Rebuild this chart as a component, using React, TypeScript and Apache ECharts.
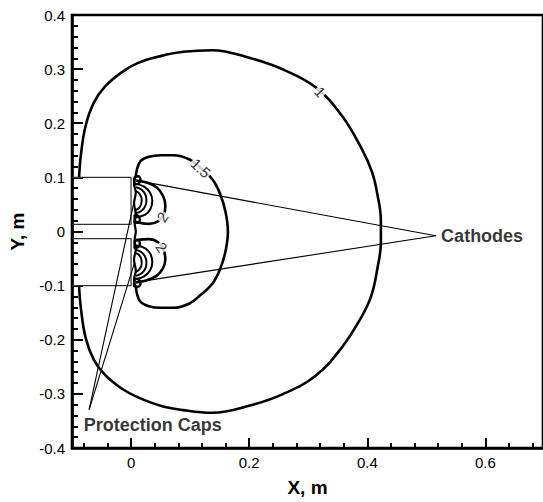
import React, { useEffect, useRef } from "react";
import * as echarts from "echarts";

// Axis ticks
const xMajorTicks = [0, 0.2, 0.4, 0.6];
const xMinorTicks = [-0.08, -0.04, 0.04, 0.08, 0.12, 0.16, 0.24, 0.28, 0.32, 0.36, 0.44, 0.48, 0.52, 0.56, 0.64, 0.68];

// Potential contour 1 (outer loop)
const contour1: number[][] = [
  [-0.088, 0.1], [-0.085, 0.141], [-0.077, 0.195], [-0.063, 0.238], [-0.044, 0.268], [-0.016, 0.294],
  [0.011, 0.311], [0.05, 0.324], [0.088, 0.332], [0.137, 0.335], [0.203, 0.32], [0.258, 0.299],
  [0.313, 0.266], [0.357, 0.214], [0.39, 0.154], [0.408, 0.11], [0.417, 0.069], [0.423, 0.02],
  [0.423, -0.02], [0.417, -0.069], [0.407, -0.118], [0.39, -0.158], [0.357, -0.214], [0.313, -0.266],
  [0.258, -0.3], [0.203, -0.321], [0.137, -0.335], [0.088, -0.33], [0.05, -0.322], [0.011, -0.306],
  [-0.016, -0.29], [-0.044, -0.265], [-0.063, -0.237], [-0.077, -0.196], [-0.085, -0.141], [-0.088, -0.102],
];

// Contour 1.5
const contour15: number[][] = [
  [0.008, 0.1], [0.01, 0.115], [0.016, 0.13], [0.03, 0.138], [0.05, 0.141], [0.072, 0.141],
  [0.099, 0.133], [0.118, 0.117], [0.138, 0.096], [0.151, 0.069], [0.16, 0.036], [0.164, 0.0],
  [0.16, -0.036], [0.151, -0.069], [0.138, -0.096], [0.118, -0.117], [0.099, -0.133], [0.072, -0.141],
  [0.05, -0.141], [0.03, -0.138], [0.016, -0.13], [0.01, -0.115], [0.008, -0.1],
];

// Contour 2 loops around each cathode
const contour2Upper: number[][] = [
  [0.008, 0.094], [0.028, 0.09], [0.044, 0.081], [0.054, 0.066], [0.058, 0.048], [0.056, 0.033],
  [0.046, 0.019], [0.03, 0.014], [0.008, 0.018],
];
const contour2Lower: number[][] = [
  [0.008, -0.016], [0.03, -0.014], [0.046, -0.02], [0.055, -0.034], [0.058, -0.052], [0.054, -0.068],
  [0.043, -0.082], [0.027, -0.09], [0.008, -0.094],
];

// Inner (higher-level) loops near the cathodes
const innerUpperA: number[][] = [[0.008, 0.088], [0.022, 0.083], [0.032, 0.072], [0.036, 0.057], [0.033, 0.042], [0.024, 0.031], [0.008, 0.026]];
const innerUpperB: number[][] = [[0.008, 0.082], [0.018, 0.077], [0.025, 0.066], [0.026, 0.056], [0.023, 0.045], [0.016, 0.037], [0.008, 0.034]];
const innerUpperC: number[][] = [[0.008, 0.075], [0.014, 0.07], [0.018, 0.06], [0.017, 0.05], [0.013, 0.043], [0.008, 0.04]];
const innerLowerA: number[][] = [[0.008, -0.026], [0.024, -0.031], [0.033, -0.042], [0.036, -0.057], [0.032, -0.072], [0.022, -0.083], [0.008, -0.088]];
const innerLowerB: number[][] = [[0.008, -0.034], [0.016, -0.037], [0.023, -0.045], [0.026, -0.056], [0.025, -0.066], [0.018, -0.077], [0.008, -0.082]];
const innerLowerC: number[][] = [[0.008, -0.04], [0.013, -0.043], [0.017, -0.05], [0.018, -0.06], [0.014, -0.07], [0.008, -0.075]];

// Tight loops at the ends of the caps
const capLoops: number[][][] = [
  [[0.005, 0.1], [0.012, 0.102], [0.016, 0.097], [0.014, 0.09], [0.008, 0.087], [0.005, 0.094], [0.005, 0.1]],
  [[0.006, 0.031], [0.012, 0.029], [0.015, 0.022], [0.012, 0.016], [0.006, 0.017], [0.006, 0.031]],
  [[0.006, -0.017], [0.012, -0.016], [0.015, -0.022], [0.012, -0.029], [0.006, -0.031], [0.006, -0.017]],
  [[0.005, -0.094], [0.008, -0.087], [0.014, -0.09], [0.016, -0.097], [0.012, -0.102], [0.005, -0.1], [0.005, -0.094]],
];

// Contour running along the cap wall
const wallContour: number[][] = [
  [0.007, 0.1], [0.005, 0.088], [0.008, 0.072], [0.005, 0.052], [0.008, 0.032], [0.006, 0.016],
  [0.008, 0.0], [0.006, -0.016], [0.008, -0.032], [0.005, -0.052], [0.008, -0.072], [0.005, -0.088], [0.007, -0.1],
];

// Protection cap outlines
const capTop: number[][] = [[-0.1, 0.1], [0, 0.1], [0, 0.013], [-0.1, 0.013]];
const capBottom: number[][] = [[-0.1, -0.013], [0, -0.013], [0, -0.1], [-0.1, -0.1]];

// Annotation leaders
const cathodeApex = [0.516, -0.008];
const cathodeTargets: number[][] = [[0.01, 0.094], [0.012, -0.093]];
const capApex = [-0.071, -0.329];
const capTargets: number[][] = [[0.006, 0.06], [0.006, -0.057]];

// Contour level labels: [x, y, rotation in degrees, text]
const contourLabels: [number, number, number, string][] = [
  [0.32, 0.258, -47, "1"],
  [0.118, 0.117, -43, "1.5"],
  [0.053, 0.027, 55, "2"],
  [0.052, -0.029, -55, "2"],
];

const FONT = "Liberation Sans, Arial, Helvetica, sans-serif";

function lineSeries(data: number[][], width: number, color: string, smooth: number | boolean) {
  return {
    type: "line",
    data,
    symbol: "none",
    showSymbol: false,
    smooth,
    silent: true,
    clip: false,
    lineStyle: { color, width },
    z: 3,
  };
}

function buildOption() {
  const series: any[] = [];
  [contour1, contour15, contour2Upper, contour2Lower].forEach((d) => series.push(lineSeries(d, 2.6, "#000", 0.4)));
  [innerUpperA, innerUpperB, innerUpperC, innerLowerA, innerLowerB, innerLowerC].forEach((d) =>
    series.push(lineSeries(d, 2, "#000", 0.4))
  );
  capLoops.forEach((d) => series.push(lineSeries(d, 2.4, "#000", 0.3)));
  series.push(lineSeries(wallContour, 2.2, "#000", 0.3));
  [capTop, capBottom].forEach((d) => series.push(lineSeries(d, 1.2, "#333", false)));
  cathodeTargets.forEach((t) => series.push(lineSeries([cathodeApex, t], 1.1, "#000", false)));
  capTargets.forEach((t) => series.push(lineSeries([capApex, t], 1.1, "#000", false)));

  series.push({
    type: "scatter",
    symbolSize: 0,
    silent: true,
    z: 10,
    data: contourLabels.map(([x, y, rot, text]) => ({
      value: [x, y],
      label: { formatter: text, rotate: rot },
    })),
    label: {
      show: true,
      position: "inside",
      color: "#000",
      fontFamily: FONT,
      fontSize: 15,
      backgroundColor: "#fff",
      padding: [0, 1],
    },
  });

  series.push({
    type: "scatter",
    symbolSize: 0,
    silent: true,
    z: 10,
    data: [
      { value: [0.525, -0.009], label: { formatter: "Cathodes" } },
      { value: [-0.08, -0.358], label: { formatter: "Protection Caps" } },
    ],
    label: {
      show: true,
      position: "right",
      distance: 0,
      color: "#000",
      fontFamily: FONT,
      fontSize: 18,
      fontWeight: "bold",
    },
  });

  // the plot area runs past the right edge of the page, so no right frame line shows
  const xBase = { type: "value", min: -0.1, max: 0.6975, splitLine: { show: false } };
  const tickStyle = { color: "#000", width: 2 };

  return {
    animation: false,
    backgroundColor: "#fff",
    grid: {
      left: 66.5,
      right: -8,
      top: 15,
      bottom: 46,
      containLabel: false,
      show: true,
      borderColor: "#000",
      borderWidth: 2.6,
      backgroundColor: "transparent",
    },
    xAxis: [
      {
        ...xBase,
        position: "bottom",
        name: "X, m",
        nameLocation: "middle",
        nameGap: 30,
        nameTextStyle: { fontFamily: FONT, fontSize: 19, fontWeight: "bold", color: "#000" },
        axisLine: { show: true, onZero: false, lineStyle: { color: "#000", width: 2.6 } },
        axisTick: { show: true, inside: true, length: 10, customValues: xMajorTicks, lineStyle: tickStyle },
        axisLabel: { show: true, customValues: xMajorTicks, color: "#000", fontFamily: FONT, fontSize: 15, margin: 7 },
      },
      {
        ...xBase,
        position: "bottom",
        axisLine: { show: false, onZero: false },
        axisTick: { show: true, inside: true, length: 5, customValues: xMinorTicks, lineStyle: tickStyle },
        axisLabel: { show: false },
      },
    ],
    yAxis: [
      {
        type: "value",
        min: -0.4,
        max: 0.4,
        interval: 0.1,
        position: "left",
        name: "Y, m",
        nameLocation: "middle",
        nameGap: 45,
        nameTextStyle: { fontFamily: FONT, fontSize: 19, fontWeight: "bold", color: "#000" },
        axisLine: { show: true, onZero: false, lineStyle: { color: "#000", width: 2.6 } },
        axisTick: { show: true, inside: true, length: 11, lineStyle: tickStyle },
        minorTick: { show: true, splitNumber: 5, length: 6, lineStyle: tickStyle },
        axisLabel: { color: "#000", fontFamily: FONT, fontSize: 15, margin: 7 },
        splitLine: { show: false },
        minorSplitLine: { show: false },
      },
    ],
    series,
  };
}

export default function App() {
  const ref = useRef<HTMLDivElement>(null);
  useEffect(() => {
    if (!ref.current) return;
    const chart = echarts.init(ref.current, null, { renderer: "svg" });
    chart.setOption(buildOption() as any);
    return () => chart.dispose();
  }, []);
  return (
    <div
      ref={ref}
      style={{ position: "fixed", left: 0, top: 0, width: 543, height: 502, background: "#fff" }}
    />
  );
}
